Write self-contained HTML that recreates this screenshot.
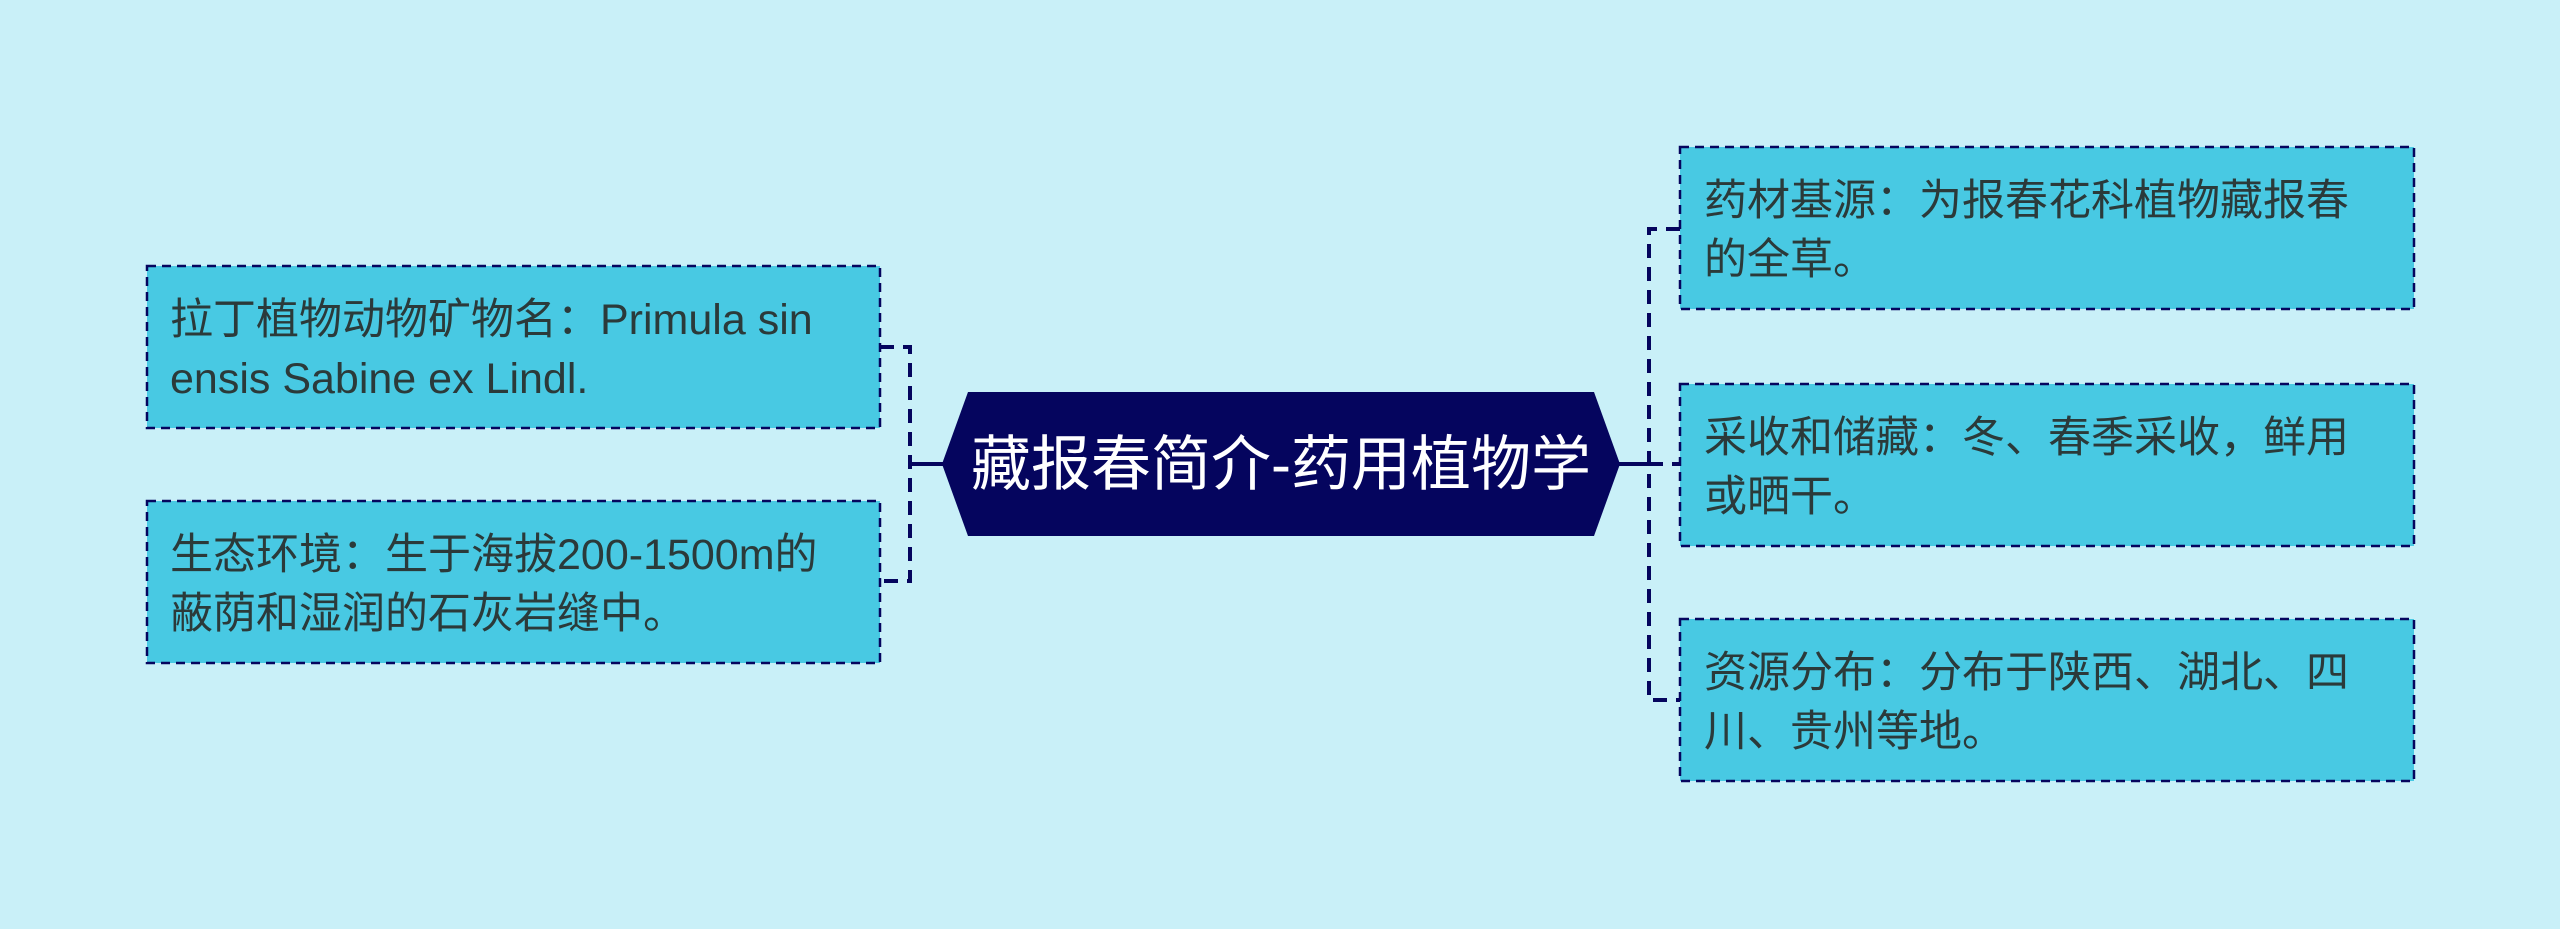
<!DOCTYPE html>
<html><head><meta charset="utf-8"><style>
body{margin:0;background:#c9f0f8;}
svg{display:block}
.t{font-family:"Liberation Sans","Noto Sans CJK SC",sans-serif;font-size:43px;fill:#2b3a3a}
</style></head><body>
<svg width="2560" height="929" xmlns="http://www.w3.org/2000/svg">
<rect width="2560" height="929" fill="#c9f0f8"/>
<g stroke="#05055e" stroke-width="4" fill="none">
<path d="M880 347 H910 V581 H880" stroke-dasharray="14 9"/>
<path d="M910 464 H945"/>
<path d="M1618 464 H1649" />
<path d="M1680 229 H1649 V700 H1680" stroke-dasharray="14 9"/>
<path d="M1649 464 H1680" stroke-dasharray="14 9"/>
</g>
<g fill="#48c9e3" stroke="#05055e" stroke-width="2.5" stroke-dasharray="9 6">
<rect x="147" y="266" width="733" height="162"/>
<rect x="147" y="501" width="733" height="162"/>
<rect x="1680" y="147" width="734" height="162"/>
<rect x="1680" y="384" width="734" height="162"/>
<rect x="1680" y="619" width="734" height="162"/>
</g>
<polygon points="968,392 1594,392 1620,464 1594,536 968,536 942,464" fill="#05055e"/>
<text x="1281" y="485" text-anchor="middle" font-family="Liberation Sans,Noto Sans CJK SC,sans-serif" font-size="60" fill="#ffffff">藏报春简介-药用植物学</text>
<text class="t" x="170" y="334">拉丁植物动物矿物名：Primula sin</text>
<text class="t" x="170" y="393">ensis Sabine ex Lindl.</text>
<text class="t" x="170" y="569">生态环境：生于海拔200-1500m的</text>
<text class="t" x="170" y="628">蔽荫和湿润的石灰岩缝中。</text>
<text class="t" x="1704" y="215">药材基源：为报春花科植物藏报春</text>
<text class="t" x="1704" y="274">的全草。</text>
<text class="t" x="1704" y="452">采收和储藏：冬、春季采收，鲜用</text>
<text class="t" x="1704" y="511">或晒干。</text>
<text class="t" x="1704" y="687">资源分布：分布于陕西、湖北、四</text>
<text class="t" x="1704" y="746">川、贵州等地。</text>
</svg>
</body></html>
